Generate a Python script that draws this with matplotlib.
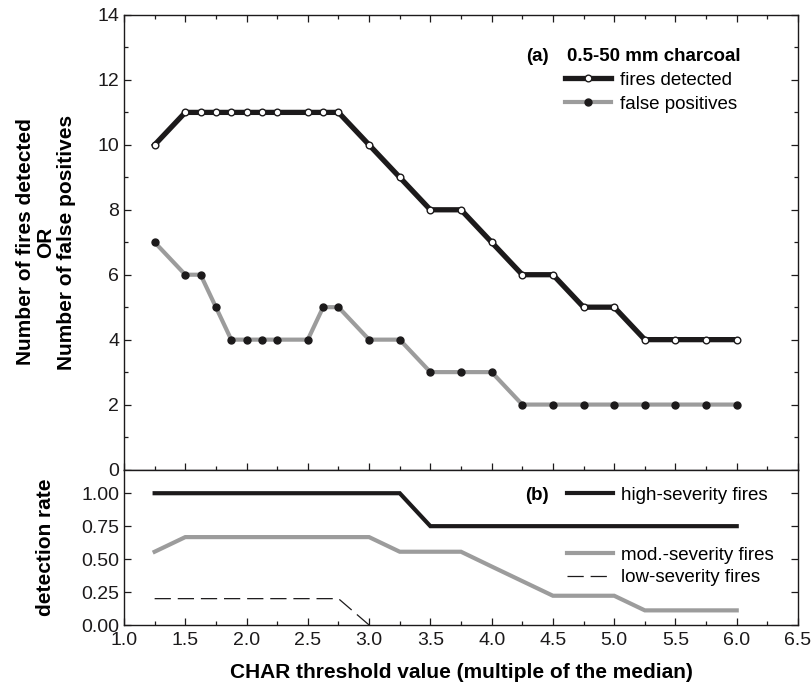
import matplotlib
matplotlib.use("Agg")
import matplotlib.pyplot as plt
from matplotlib.ticker import MultipleLocator, FormatStrFormatter

plt.rcParams['font.family'] = ['Liberation Sans', 'DejaVu Sans']

# (a) counts vs CHAR threshold
thr_a = [1.25, 1.5, 1.625, 1.75, 1.875, 2.0, 2.125, 2.25, 2.5, 2.625, 2.75,
         3.0, 3.25, 3.5, 3.75, 4.0, 4.25, 4.5, 4.75, 5.0, 5.25, 5.5, 5.75, 6.0]
fires_detected = [10, 11, 11, 11, 11, 11, 11, 11, 11, 11, 11,
                  10, 9, 8, 8, 7, 6, 6, 5, 5, 4, 4, 4, 4]
false_positives = [7, 6, 6, 5, 4, 4, 4, 4, 4, 5, 5,
                   4, 4, 3, 3, 3, 2, 2, 2, 2, 2, 2, 2, 2]

# (b) detection rate by fire severity
thr_b = [1.25, 1.5, 1.75, 2.0, 2.25, 2.5, 2.75, 3.0, 3.25, 3.5, 3.75,
         4.0, 4.25, 4.5, 4.75, 5.0, 5.25, 5.5, 5.75, 6.0]
high_sev = [1.0, 1.0, 1.0, 1.0, 1.0, 1.0, 1.0, 1.0, 1.0, 0.75, 0.75,
            0.75, 0.75, 0.75, 0.75, 0.75, 0.75, 0.75, 0.75, 0.75]
mod_sev = [0.556, 0.667, 0.667, 0.667, 0.667, 0.667, 0.667, 0.667, 0.556, 0.556, 0.556,
           0.444, 0.333, 0.222, 0.222, 0.222, 0.111, 0.111, 0.111, 0.111]
thr_low = [1.25, 1.5, 1.75, 2.0, 2.25, 2.5, 2.75, 3.0]
low_sev = [0.2, 0.2, 0.2, 0.2, 0.2, 0.2, 0.2, 0.0]

BLACK = '#1c1a1b'
GRAY = '#9c9c9c'
TICK_FS = 14
LEG_FS = 13.5
LAB_FS = 15

fig = plt.figure(figsize=(8.12, 6.96), dpi=100)
W, H = 812, 696
x0, x1 = 124, 798
yt, ymid, yb = 15, 469.5, 625
ax1 = fig.add_axes([x0 / W, 1 - ymid / H, (x1 - x0) / W, (ymid - yt) / H])
ax2 = fig.add_axes([x0 / W, 1 - yb / H, (x1 - x0) / W, (yb - ymid) / H])

# top panel
ax1.plot(thr_a, fires_detected, color=BLACK, lw=3.8, marker='o', ms=4.8,
         mfc='white', mec=BLACK, mew=1.0, solid_joinstyle='miter',
         label='fires detected', zorder=3)
ax1.plot(thr_a, false_positives, color=GRAY, lw=3.0, marker='o', ms=5,
         mfc=BLACK, mec=BLACK, solid_joinstyle='miter',
         label='false positives', zorder=2)
ax1.set_xlim(1.0, 6.5)
ax1.set_ylim(0, 14)
ax1.yaxis.set_major_locator(MultipleLocator(2))
ax1.yaxis.set_minor_locator(MultipleLocator(1))
ax1.xaxis.set_major_locator(MultipleLocator(0.5))
ax1.xaxis.set_minor_locator(MultipleLocator(0.25))
ax1.tick_params(axis='x', which='both', labelbottom=False)
ax1.text(0.597, 0.908, '(a)', transform=ax1.transAxes, fontsize=LEG_FS,
         fontweight='bold', ha='left', va='center')
ax1.text(0.657, 0.908, '0.5-50 mm charcoal', transform=ax1.transAxes,
         fontsize=LEG_FS, fontweight='bold', ha='left', va='center')
ax1.legend(loc='upper left', bbox_to_anchor=(0.655, 0.875), frameon=False,
           fontsize=LEG_FS, handlelength=2.45, handletextpad=0.45,
           labelspacing=0.36, borderpad=0, borderaxespad=0)

# bottom panel
ax2.plot(thr_b, high_sev, color=BLACK, lw=3.0, label='high-severity fires',
         solid_joinstyle='miter')
ax2.plot(thr_b, mod_sev, color=GRAY, lw=3.0, label='mod.-severity fires',
         solid_joinstyle='miter')
ax2.plot(thr_low, low_sev, color=BLACK, lw=0.9, dashes=(13, 5.5),
         label='low-severity fires')
ax2.set_xlim(1.0, 6.5)
ax2.set_ylim(0, 1.18)
ax2.set_yticks([0, 0.25, 0.5, 0.75, 1.0])
ax2.yaxis.set_major_formatter(FormatStrFormatter('%.2f'))
ax2.xaxis.set_major_locator(MultipleLocator(0.5))
ax2.xaxis.set_minor_locator(MultipleLocator(0.25))
ax2.xaxis.set_major_formatter(FormatStrFormatter('%.1f'))
ax2.text(0.595, 0.835, '(b)', transform=ax2.transAxes, fontsize=LEG_FS,
         fontweight='bold', ha='left', va='center')
h = ax2.get_lines()
leg1 = ax2.legend(handles=[h[0]], loc='upper left', bbox_to_anchor=(0.657, 0.89),
                  frameon=False, fontsize=LEG_FS, handlelength=2.45,
                  handletextpad=0.45, borderpad=0, borderaxespad=0)
ax2.add_artist(leg1)
ax2.legend(handles=[h[1], h[2]], loc='upper left', bbox_to_anchor=(0.657, 0.505),
           frameon=False, fontsize=LEG_FS, handlelength=2.45, handletextpad=0.45,
           labelspacing=0.3, borderpad=0, borderaxespad=0)

for ax in (ax1, ax2):
    for s in ax.spines.values():
        s.set_linewidth(1.0)
        s.set_color(BLACK)
    ax.tick_params(which='both', direction='in', colors=BLACK,
                   labelsize=TICK_FS, left=True, right=True, bottom=True)
    ax.tick_params(which='major', length=5, width=0.9)
    ax.tick_params(which='minor', length=3, width=0.9)
ax1.tick_params(which='both', top=True)
ax2.tick_params(which='both', top=False)
ax2.tick_params(axis='x', pad=5)

fig.text(46 / W, 1 - 242 / H,
         'Number of fires detected\nOR\nNumber of false positives',
         rotation=90, ha='center', va='center', multialignment='center',
         fontsize=LAB_FS, fontweight='bold', linespacing=1.1)
fig.text(46 / W, 1 - 547 / H, 'detection rate', rotation=90, ha='center',
         va='center', fontsize=LAB_FS, fontweight='bold')
fig.text((x0 + x1) / 2 / W, 1 - 672 / H,
         'CHAR threshold value (multiple of the median)', ha='center',
         va='center', fontsize=LAB_FS, fontweight='bold')

fig.savefig('out.png', dpi=100)
